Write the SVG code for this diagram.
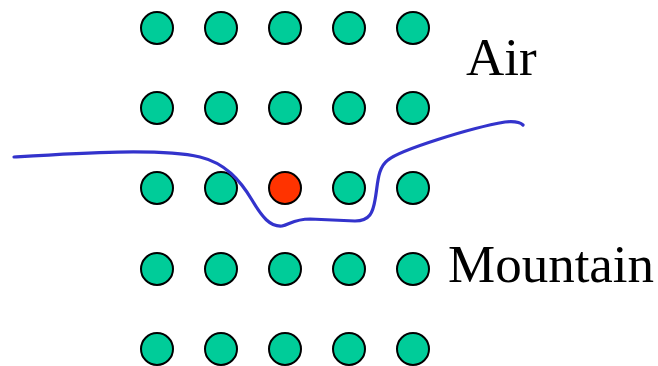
<svg xmlns="http://www.w3.org/2000/svg" width="658" height="366" viewBox="0 0 658 366">
<style>
.n{fill:#00cc99;stroke:#000;stroke-width:2}
.r{fill:#ff3300;stroke:#000;stroke-width:2}
.t{font-family:"Liberation Serif",serif;font-size:53px;fill:#000}
.c{fill:none;stroke:#3333cc;stroke-width:3.2;stroke-linecap:round;stroke-linejoin:round}
</style>
<rect width="658" height="366" fill="#fff"/>
<g id="nodes">
<g id="r1"><circle class="n" cx="157" cy="28" r="16"/><circle class="n" cx="221" cy="28" r="16"/><circle class="n" cx="285" cy="28" r="16"/><circle class="n" cx="349" cy="28" r="16"/><circle class="n" cx="413" cy="28" r="16"/></g>
<g id="r2"><circle class="n" cx="157" cy="108" r="16"/><circle class="n" cx="221" cy="108" r="16"/><circle class="n" cx="285" cy="108" r="16"/><circle class="n" cx="349" cy="108" r="16"/><circle class="n" cx="413" cy="108" r="16"/></g>
<g id="r3"><circle class="n" cx="157" cy="188" r="16"/><circle class="n" cx="221" cy="188" r="16"/><circle id="red" class="r" cx="285" cy="188" r="16"/><circle class="n" cx="349" cy="188" r="16"/><circle class="n" cx="413" cy="188" r="16"/></g>
<g id="r4"><circle class="n" cx="157" cy="269" r="16"/><circle class="n" cx="221" cy="269" r="16"/><circle class="n" cx="285" cy="269" r="16"/><circle class="n" cx="349" cy="269" r="16"/><circle class="n" cx="413" cy="269" r="16"/></g>
<g id="r5"><circle class="n" cx="157" cy="349" r="16"/><circle class="n" cx="221" cy="349" r="16"/><circle class="n" cx="285" cy="349" r="16"/><circle class="n" cx="349" cy="349" r="16"/><circle class="n" cx="413" cy="349" r="16"/></g>
</g>
<g id="connectors">
<path class="c" d="M14,157 C80,153 160,148 200,157 C225,163 240,180 252,200 C262,217 270,227 282,226 C290,224 295,219 310,219 L355,221 C370,221 373,212 375,200 C378,185 377,168 388,160 C400,150 470,128 505,122 C515,121 520,122 523,125"/>
</g>
<text class="t" x="466" y="75">Air</text>
<text class="t" x="448" y="282">Mountain</text>
</svg>
